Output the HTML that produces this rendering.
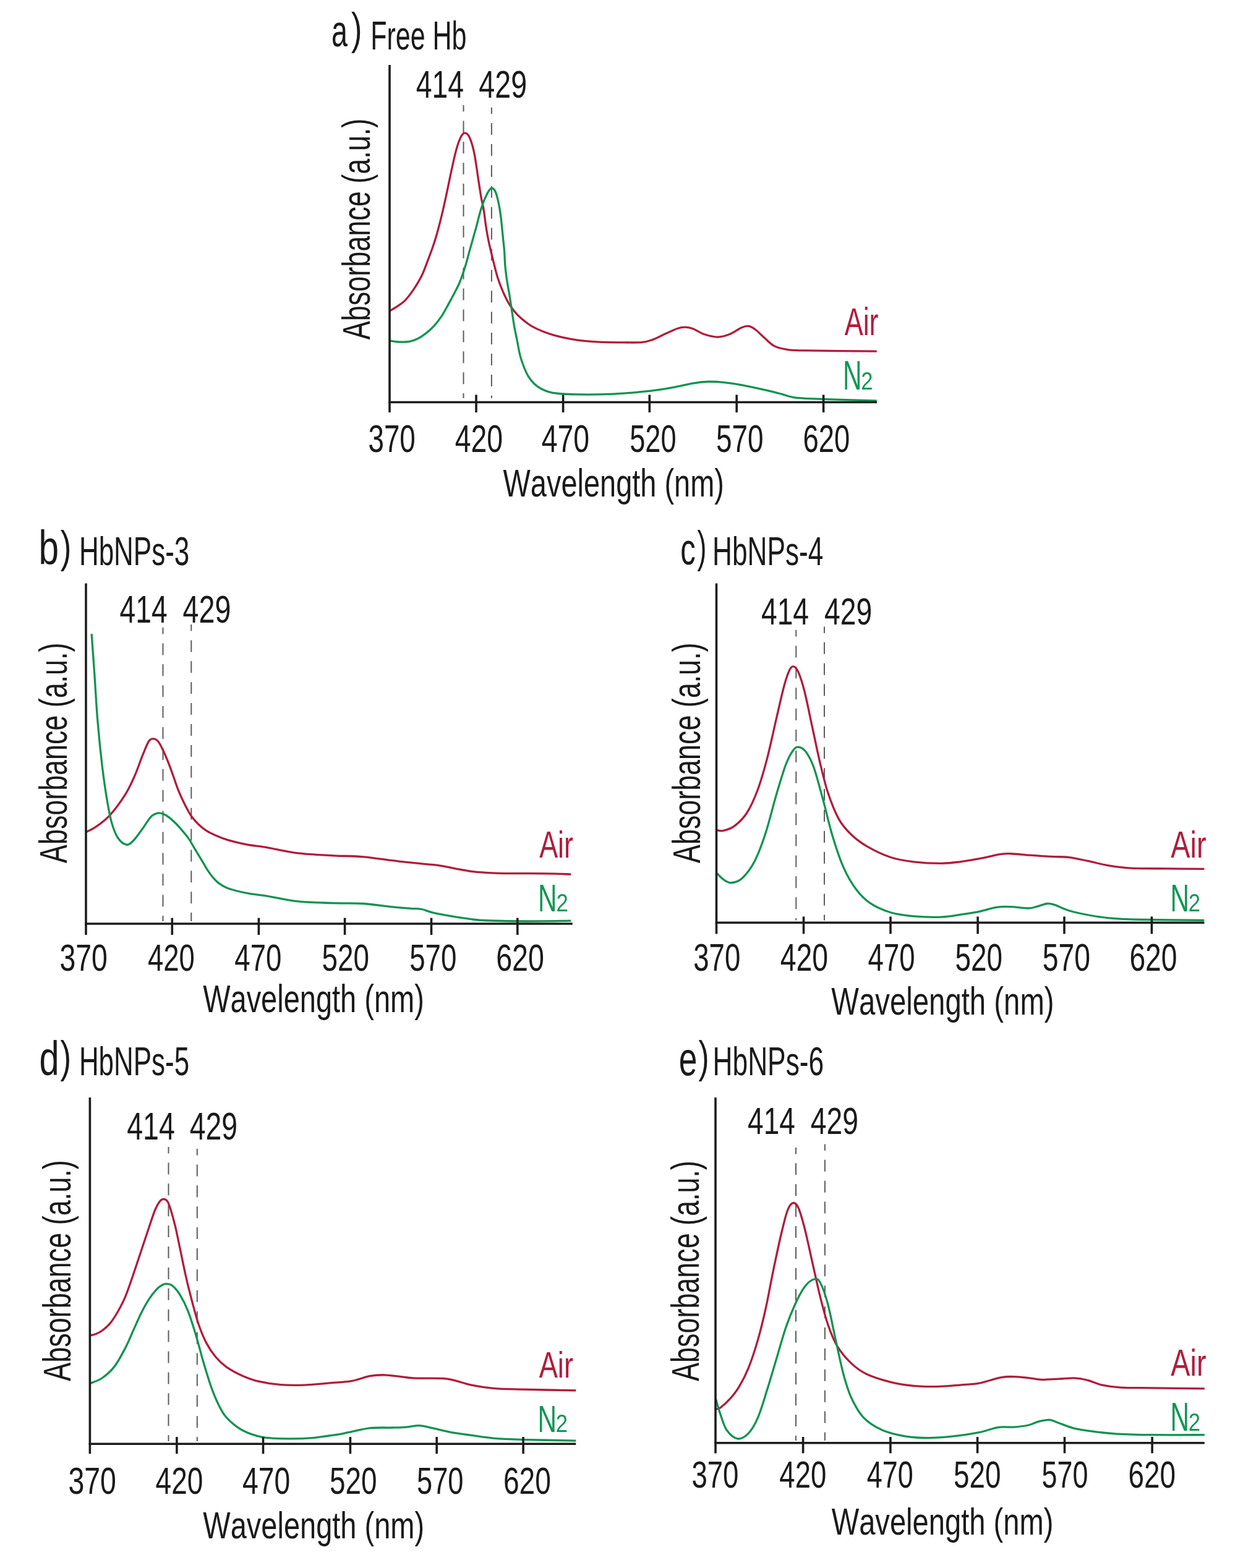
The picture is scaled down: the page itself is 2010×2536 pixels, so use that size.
<!DOCTYPE html>
<html><head><meta charset="utf-8"><title>Hb UV-vis spectra</title>
<style>html,body{margin:0;padding:0;background:#fff}svg{display:block}text{font-family:"Liberation Sans",Arial,sans-serif;font-kerning:none}</style>
</head><body>
<svg width="2010" height="2536" viewBox="0 0 2010 2536">
<rect width="2010" height="2536" fill="#fff"/>
<line x1="749.5" y1="170" x2="749.5" y2="644" stroke="#5c5c5c" stroke-width="2.0" stroke-dasharray="19 14.9" stroke-dashoffset="8.5"/>
<line x1="794.9" y1="173.7" x2="794.9" y2="644" stroke="#5c5c5c" stroke-width="2.0" stroke-dasharray="19 14.9" stroke-dashoffset="8.5"/>
<path d="M630,503 C632.17,501.7 638.67,498.23 643,495.2 C647.33,492.17 651.67,489.35 656,484.8 C660.33,480.25 664.67,474.4 669,467.9 C673.33,461.4 678.12,453.8 682,445.8 C685.88,437.8 689.3,427.7 692.3,419.9 C695.3,412.1 697.63,405.95 700,399 C702.37,392.05 704.12,386.65 706.5,378.2 C708.88,369.75 711.92,358.05 714.3,348.3 C716.68,338.55 718.63,329.65 720.8,319.7 C722.97,309.75 725.13,298.77 727.3,288.6 C729.47,278.43 731.85,267.15 733.8,258.7 C735.75,250.25 737.27,243.75 739,237.9 C740.73,232.05 742.68,227.07 744.2,223.6 C745.72,220.13 746.82,218.5 748.1,217.1 C749.38,215.7 750.4,214.98 751.9,215.2 C753.4,215.42 755.37,215.92 757.1,218.4 C758.83,220.88 760.57,224.68 762.3,230.1 C764.03,235.52 765.77,241.8 767.5,250.9 C769.23,260 770.97,273.43 772.7,284.7 C774.43,295.97 776.48,310.3 777.9,318.5 C779.32,326.7 780.28,329.02 781.2,333.9 C782.12,338.78 782.67,342.7 783.4,347.8 C784.13,352.9 784.77,358.93 785.6,364.5 C786.43,370.07 787.47,376.1 788.4,381.2 C789.33,386.3 790.18,390.47 791.2,395.1 C792.22,399.73 793.38,404.37 794.5,409 C795.62,413.63 796.75,418.23 797.9,422.9 C799.05,427.57 800.17,432.37 801.4,437 C802.63,441.63 803.52,445.4 805.3,450.7 C807.08,456 809.77,463.18 812.1,468.8 C814.43,474.42 816.9,479.78 819.3,484.4 C821.7,489.02 823.68,492.47 826.5,496.5 C829.32,500.53 832.57,504.78 836.2,508.6 C839.83,512.42 844.28,516.18 848.3,519.4 C852.32,522.62 855.28,525.08 860.3,527.9 C865.32,530.72 872.37,533.9 878.4,536.3 C884.43,538.7 889.47,540.38 896.5,542.3 C903.53,544.22 912.55,546.28 920.6,547.8 C928.65,549.32 936.75,550.5 944.8,551.4 C952.85,552.3 959.7,552.8 968.9,553.2 C978.1,553.6 988.53,553.73 1000,553.8 C1011.47,553.87 1028.52,554.35 1037.75,553.61 C1046.97,552.86 1049.07,551.6 1055.36,549.33 C1061.65,547.07 1068.78,543.04 1075.49,540.02 C1082.2,537 1090.17,533.02 1095.62,531.21 C1101.07,529.41 1104.01,529.12 1108.2,529.2 C1112.4,529.28 1115.75,529.83 1120.79,531.72 C1125.82,533.6 1131.69,538.3 1138.4,540.52 C1145.11,542.75 1153.92,545.14 1161.05,545.05 C1168.18,544.97 1174.89,542.54 1181.18,540.02 C1187.47,537.5 1193.97,532.05 1198.79,529.95 C1203.62,527.86 1206.34,526.94 1210.12,527.44 C1213.89,527.94 1217.04,529.75 1221.44,532.97 C1225.84,536.2 1231.5,542.41 1236.54,546.81 C1241.57,551.22 1245.76,556.33 1251.64,559.4 C1257.51,562.46 1263.38,563.93 1271.77,565.18 C1280.15,566.44 1277.64,566.44 1301.96,566.95 C1326.29,567.45 1398.42,567.99 1417.72,568.2" fill="none" stroke="#b01c3c" stroke-width="3.3" stroke-linecap="butt" stroke-linejoin="round"/>
<path d="M630,551 C632.17,551.33 637.58,552.78 643,553 C648.42,553.22 657.08,553.17 662.5,552.3 C667.92,551.43 671.18,549.95 675.5,547.8 C679.82,545.65 684.08,542.75 688.4,539.4 C692.72,536.05 697.07,532.47 701.4,527.7 C705.73,522.93 710.5,516.65 714.4,510.8 C718.3,504.95 721.55,498.45 724.8,492.6 C728.05,486.75 730.87,481.55 733.9,475.7 C736.93,469.85 740.4,463.52 743,457.5 C745.6,451.48 747.68,444.9 749.5,439.6 C751.32,434.3 752.42,430.8 753.9,425.7 C755.38,420.6 757,414.1 758.4,409 C759.8,403.9 761,399.73 762.3,395.1 C763.6,390.47 764.9,385.83 766.2,381.2 C767.5,376.57 768.82,372.12 770.1,367.3 C771.38,362.48 772.62,357.12 773.9,352.3 C775.18,347.48 776.4,342.85 777.8,338.4 C779.2,333.95 781,329 782.3,325.6 C783.6,322.2 784.38,320.6 785.6,318 C786.82,315.4 788.07,312.3 789.6,310 C791.13,307.7 793.07,304.53 794.8,304.2 C796.53,303.87 798.48,305.63 800,308 C801.52,310.37 802.6,313.63 803.9,318.4 C805.2,323.17 806.72,330.53 807.8,336.6 C808.88,342.67 809.53,347.43 810.4,354.8 C811.27,362.17 812.13,372.13 813,380.8 C813.87,389.47 814.95,398.57 815.6,406.8 C816.25,415.03 816.18,422.28 816.9,430.2 C817.62,438.12 818.7,446.27 819.9,454.3 C821.1,462.33 822.8,470.37 824.1,478.4 C825.4,486.43 826.48,494.45 827.7,502.5 C828.92,510.55 829.98,518.65 831.4,526.7 C832.82,534.75 834.6,542.77 836.2,550.8 C837.8,558.83 839.2,567.87 841,574.9 C842.8,581.93 844.78,587.37 847,593 C849.22,598.63 851.48,604.08 854.3,608.7 C857.12,613.32 860.28,617.28 863.9,620.7 C867.52,624.12 871.57,626.88 876,629.2 C880.43,631.52 885.07,633.3 890.5,634.6 C895.93,635.9 901.57,636.45 908.6,637 C915.63,637.55 922.65,637.75 932.7,637.9 C942.75,638.05 957.68,638.1 968.9,637.9 C980.12,637.7 986.43,637.62 1000,636.7 C1013.57,635.78 1035.65,634.06 1050.33,632.37 C1065.01,630.68 1076.33,628.68 1088.07,626.58 C1099.82,624.49 1111.14,621.34 1120.79,619.79 C1130.43,618.24 1137.56,617.48 1145.95,617.27 C1154.34,617.06 1161.89,617.57 1171.11,618.53 C1180.34,619.5 1189.98,620.96 1201.31,623.06 C1212.63,625.16 1228.57,628.72 1239.05,631.11 C1249.54,633.5 1257.09,635.52 1264.22,637.4 C1271.35,639.29 1273.44,641.18 1281.83,642.44 C1290.22,643.69 1291.9,643.99 1314.54,644.95 C1337.19,645.92 1400.52,647.68 1417.72,648.22" fill="none" stroke="#119352" stroke-width="3.3" stroke-linecap="butt" stroke-linejoin="round"/>
<line x1="630" y1="105" x2="630" y2="667" stroke="#1c1c1c" stroke-width="3.6" />
<line x1="628.2" y1="650.5" x2="1418" y2="650.5" stroke="#1c1c1c" stroke-width="3.6" />
<line x1="770" y1="638.5" x2="770" y2="667" stroke="#1c1c1c" stroke-width="3.6" />
<line x1="910.6" y1="638.5" x2="910.6" y2="667" stroke="#1c1c1c" stroke-width="3.6" />
<line x1="1050.3" y1="638.5" x2="1050.3" y2="667" stroke="#1c1c1c" stroke-width="3.6" />
<line x1="1191.2" y1="638.5" x2="1191.2" y2="667" stroke="#1c1c1c" stroke-width="3.6" />
<line x1="1331.6" y1="638.5" x2="1331.6" y2="667" stroke="#1c1c1c" stroke-width="3.6" />
<text transform="translate(595.47,731) scale(0.7251,1)" font-size="63.14" fill="#1a1a1a">370</text>
<text transform="translate(735.64,731) scale(0.7351,1)" font-size="63.14" fill="#1a1a1a">420</text>
<text transform="translate(875.74,731) scale(0.7351,1)" font-size="63.14" fill="#1a1a1a">470</text>
<text transform="translate(1018.19,731) scale(0.7152,1)" font-size="63.14" fill="#1a1a1a">520</text>
<text transform="translate(1157.96,731) scale(0.7271,1)" font-size="63.14" fill="#1a1a1a">570</text>
<text transform="translate(1298.43,731) scale(0.7187,1)" font-size="63.14" fill="#1a1a1a">620</text>
<text transform="translate(813.57,803.4) scale(0.7478,1)" font-size="62.78" fill="#1a1a1a">Wavelength (nm)</text>
<text transform="translate(597.9,549.22) rotate(-90) scale(0.7119,1)" font-size="63.19" fill="#1a1a1a">Absorbance (a.u.)</text>
<text transform="translate(672.64,157.8) scale(0.7429,1)" font-size="62.43" fill="#1a1a1a">414</text>
<text transform="translate(774.33,157.8) scale(0.7472,1)" font-size="62.43" fill="#1a1a1a">429</text>
<text transform="translate(1365.68,541.8) scale(0.7157,1)" font-size="62.76" fill="#b01c3c">Air</text>
<text transform="translate(1362.91,629.9) scale(0.6362,1)" font-size="66.52" fill="#129656">N</text>
<text transform="translate(1392.26,629.9) scale(0.8712,1)" font-size="39.86" fill="#129656">2</text>
<text transform="translate(535.9,75.08) scale(0.4667,0.7236)" font-size="100" fill="#1a1a1a">a</text>
<text transform="translate(567.88,70.87) scale(0.5231,0.7251)" font-size="100" fill="#1a1a1a">)</text>
<text transform="translate(599.16,79.5) scale(0.6580,1)" font-size="65.36" fill="#1a1a1a">Free Hb</text>
<line x1="263.5" y1="1015" x2="263.5" y2="1490" stroke="#5c5c5c" stroke-width="2.0" stroke-dasharray="19 14.9" stroke-dashoffset="8.5"/>
<line x1="309.3" y1="1010" x2="309.3" y2="1490" stroke="#5c5c5c" stroke-width="2.0" stroke-dasharray="19 14.9" stroke-dashoffset="8.5"/>
<path d="M138.81,1345.96 C141.53,1344.5 148.66,1341.77 155.16,1337.16 C161.66,1332.54 169.84,1327.09 177.81,1318.29 C185.77,1309.48 196.26,1295.01 202.97,1284.32 C209.68,1273.63 213.45,1264.61 218.06,1254.13 C222.68,1243.64 226.87,1230.64 230.64,1221.42 C234.42,1212.19 237.78,1203.19 240.71,1198.77 C243.63,1194.35 245.65,1194.78 248.2,1194.9 C250.75,1195.02 253.4,1196.35 256,1199.5 C258.6,1202.65 261.2,1208.4 263.8,1213.8 C266.4,1219.2 269,1225.42 271.6,1231.9 C274.2,1238.38 276.82,1245.55 279.4,1252.7 C281.98,1259.85 284.52,1268.08 287.1,1274.8 C289.68,1281.52 292.3,1287.37 294.9,1293 C297.5,1298.63 300.1,1303.83 302.7,1308.6 C305.3,1313.37 307.47,1317.5 310.5,1321.6 C313.53,1325.7 317,1329.53 320.9,1333.2 C324.8,1336.87 329.13,1340.57 333.9,1343.6 C338.67,1346.63 344.08,1349.02 349.5,1351.4 C354.92,1353.78 360.35,1355.95 366.4,1357.9 C372.45,1359.85 379.32,1361.58 385.8,1363.1 C392.28,1364.62 397.93,1365.8 405.3,1367 C412.67,1368.2 417.17,1368.14 430,1370.3 C442.83,1372.46 463.92,1377.68 482.25,1379.93 C500.59,1382.18 522.38,1382.81 540,1383.8 C557.62,1384.79 570.18,1384.3 588,1385.9 C605.82,1387.5 627.28,1391.18 646.9,1393.4 C666.52,1395.62 691.02,1397.33 705.7,1399.2 C720.38,1401.07 725.2,1402.87 735,1404.6 C744.8,1406.33 753.67,1408.33 764.5,1409.6 C775.33,1410.87 790.2,1411.7 800,1412.2 C809.8,1412.7 809.62,1412.5 823.3,1412.6 C836.98,1412.7 865.43,1412.57 882.1,1412.8 C898.77,1413.03 916.43,1413.8 923.3,1414" fill="none" stroke="#b01c3c" stroke-width="3.3" stroke-linecap="butt" stroke-linejoin="round"/>
<path d="M148.12,1025.16 C148.87,1035.64 151.05,1065 152.64,1088.06 C154.24,1111.13 155.58,1138.39 157.68,1163.55 C159.77,1188.71 162.71,1217.64 165.23,1239.03 C167.74,1260.42 170.26,1276.77 172.77,1291.87 C175.29,1306.96 177.39,1319.13 180.32,1329.61 C183.26,1340.09 186.4,1348.69 190.39,1354.77 C194.37,1360.85 200.03,1365.25 204.23,1366.09 C208.42,1366.93 211.25,1363.98 215.55,1359.8 C219.84,1355.62 226.29,1346.07 230,1341 C233.71,1335.93 235.2,1332.97 237.8,1329.4 C240.4,1325.83 242.78,1321.98 245.6,1319.6 C248.42,1317.22 251.67,1315.63 254.7,1315.1 C257.73,1314.57 260.77,1315.32 263.8,1316.4 C266.83,1317.48 269.45,1319 272.9,1321.6 C276.35,1324.2 280.83,1328.33 284.5,1332 C288.17,1335.67 291.43,1339.5 294.9,1343.6 C298.37,1347.7 302.27,1352.27 305.3,1356.6 C308.33,1360.93 310.5,1365.27 313.1,1369.6 C315.7,1373.93 318.3,1378.27 320.9,1382.6 C323.5,1386.93 326.1,1391.27 328.7,1395.6 C331.3,1399.93 333.9,1404.7 336.5,1408.6 C339.1,1412.5 341.48,1415.75 344.3,1419 C347.12,1422.25 349.72,1425.3 353.4,1428.1 C357.08,1430.9 361.43,1433.65 366.4,1435.8 C371.37,1437.95 376.72,1439.37 383.2,1441 C389.68,1442.63 397.5,1444.3 405.3,1445.6 C413.1,1446.9 417.17,1446.74 430,1448.8 C442.83,1450.86 463.92,1455.96 482.25,1457.93 C500.59,1459.9 522.38,1460.01 540,1460.6 C557.62,1461.19 572.17,1460.45 588,1461.5 C603.83,1462.55 622.25,1465.6 635,1466.9 C647.75,1468.2 656.67,1468.7 664.5,1469.3 C672.33,1469.9 675.13,1469.15 682,1470.5 C688.87,1471.85 691.95,1474.65 705.7,1477.4 C719.45,1480.15 749.8,1485.07 764.5,1487 C779.2,1488.93 779.2,1488.5 793.9,1489 C808.6,1489.5 831.13,1489.97 852.7,1490 C874.27,1490.03 911.53,1489.33 923.3,1489.2" fill="none" stroke="#119352" stroke-width="3.3" stroke-linecap="butt" stroke-linejoin="round"/>
<line x1="139" y1="943.5" x2="139" y2="1512" stroke="#1c1c1c" stroke-width="3.6" />
<line x1="137.2" y1="1494" x2="925.7" y2="1494" stroke="#1c1c1c" stroke-width="3.6" />
<line x1="278.3" y1="1484.6" x2="278.3" y2="1512" stroke="#1c1c1c" stroke-width="3.6" />
<line x1="418.4" y1="1484.6" x2="418.4" y2="1512" stroke="#1c1c1c" stroke-width="3.6" />
<line x1="557.6" y1="1484.6" x2="557.6" y2="1512" stroke="#1c1c1c" stroke-width="3.6" />
<line x1="697.5" y1="1484.6" x2="697.5" y2="1512" stroke="#1c1c1c" stroke-width="3.6" />
<line x1="836.8" y1="1484.6" x2="836.8" y2="1512" stroke="#1c1c1c" stroke-width="3.6" />
<text transform="translate(96.44,1570.3) scale(0.7681,1)" font-size="60.43" fill="#1a1a1a">370</text>
<text transform="translate(238.96,1570.3) scale(0.7527,1)" font-size="60.43" fill="#1a1a1a">420</text>
<text transform="translate(379.36,1570.3) scale(0.7537,1)" font-size="60.43" fill="#1a1a1a">470</text>
<text transform="translate(520.46,1570.3) scale(0.7598,1)" font-size="60.43" fill="#1a1a1a">520</text>
<text transform="translate(662.17,1570.3) scale(0.7556,1)" font-size="60.43" fill="#1a1a1a">570</text>
<text transform="translate(802.17,1570.3) scale(0.7719,1)" font-size="60.43" fill="#1a1a1a">620</text>
<text transform="translate(328.17,1637.3) scale(0.7499,1)" font-size="62.64" fill="#1a1a1a">Wavelength (nm)</text>
<text transform="translate(107.8,1395.92) rotate(-90) scale(0.7095,1)" font-size="63.19" fill="#1a1a1a">Absorbance (a.u.)</text>
<text transform="translate(193.55,1006.7) scale(0.7433,1)" font-size="62.14" fill="#1a1a1a">414</text>
<text transform="translate(295.53,1006.7) scale(0.7516,1)" font-size="62.14" fill="#1a1a1a">429</text>
<text transform="translate(872.18,1386.6) scale(0.7288,1)" font-size="61.52" fill="#b01c3c">Air</text>
<text transform="translate(870.11,1474.4) scale(0.6729,1)" font-size="62.9" fill="#129656">N</text>
<text transform="translate(899.46,1474.4) scale(0.8712,1)" font-size="39.86" fill="#129656">2</text>
<text transform="translate(62.4,913.02) scale(0.5844,0.7837)" font-size="100" fill="#1a1a1a">b</text>
<text transform="translate(97.77,908.54) scale(0.5308,0.7219)" font-size="100" fill="#1a1a1a">)</text>
<text transform="translate(127.88,914) scale(0.6822,1)" font-size="64.49" fill="#1a1a1a">HbNPs-3</text>
<line x1="1287.3" y1="1019" x2="1287.3" y2="1488.5" stroke="#5c5c5c" stroke-width="2.0" stroke-dasharray="19 14.9" stroke-dashoffset="8.5"/>
<line x1="1333" y1="1013.4" x2="1333" y2="1488.5" stroke="#5c5c5c" stroke-width="2.0" stroke-dasharray="19 14.9" stroke-dashoffset="8.5"/>
<path d="M1159.56,1342.69 C1161.32,1342.82 1165.43,1344.58 1170.13,1343.45 C1174.83,1342.32 1181.45,1340.72 1187.74,1335.9 C1194.03,1331.08 1201.58,1324.37 1207.87,1314.51 C1214.16,1304.66 1220.03,1291.45 1225.48,1276.77 C1230.93,1262.09 1235.55,1245.74 1240.58,1226.45 C1245.61,1207.16 1251.06,1180.74 1255.68,1161.03 C1260.29,1141.32 1264.69,1121.19 1268.26,1108.19 C1271.82,1095.19 1274.55,1088.06 1277.06,1083.03 C1279.58,1078 1281.05,1077.37 1283.35,1078 C1285.66,1078.63 1287.97,1080.1 1290.9,1086.81 C1293.84,1093.52 1297.19,1103.37 1300.97,1118.26 C1304.74,1133.14 1309.35,1156.84 1313.55,1176.13 C1317.74,1195.42 1321.93,1216.38 1326.13,1234 C1330.32,1251.61 1333.68,1266.71 1338.71,1281.8 C1343.74,1296.9 1350.03,1313.25 1356.32,1324.58 C1362.61,1335.9 1368.9,1342.4 1376.45,1349.74 C1384,1357.08 1391.13,1362.53 1401.61,1368.61 C1412.09,1374.69 1426.77,1382.03 1439.35,1386.22 C1451.93,1390.42 1463.25,1392.09 1477.09,1393.77 C1490.93,1395.45 1509.8,1396.29 1522.38,1396.29 C1534.96,1396.29 1541.63,1395.19 1552.58,1393.77 C1563.53,1392.35 1577.1,1389.82 1588.09,1387.77 C1599.08,1385.72 1610.71,1382.62 1618.51,1381.45 C1626.32,1380.28 1627.1,1380.48 1634.9,1380.75 C1642.7,1381.02 1654.4,1382.31 1665.32,1383.09 C1676.25,1383.87 1689.9,1384.84 1700.43,1385.43 C1710.97,1386.02 1718.77,1385.43 1728.52,1386.6 C1738.27,1387.77 1748.02,1390.19 1758.95,1392.45 C1769.87,1394.71 1782.35,1398.23 1794.06,1400.18 C1805.76,1402.13 1813.56,1403.37 1829.16,1404.15 C1844.77,1404.93 1867.98,1404.66 1887.68,1404.86 C1907.38,1405.05 1937.41,1405.25 1947.36,1405.32" fill="none" stroke="#b01c3c" stroke-width="3.3" stroke-linecap="butt" stroke-linejoin="round"/>
<path d="M1159.56,1412.64 C1161.32,1414.32 1166.27,1420.19 1170.13,1422.71 C1173.99,1425.22 1177.68,1428.16 1182.71,1427.74 C1187.74,1427.32 1194.03,1426.06 1200.32,1420.19 C1206.61,1414.32 1214.16,1404.67 1220.45,1392.51 C1226.74,1380.35 1232.19,1365.25 1238.06,1347.22 C1243.93,1329.19 1250.22,1302.77 1255.68,1284.32 C1261.13,1265.87 1266.16,1248.47 1270.77,1236.51 C1275.39,1224.56 1279.79,1217.31 1283.35,1212.61 C1286.92,1207.91 1288.81,1207.7 1292.16,1208.33 C1295.51,1208.96 1299.5,1210.85 1303.48,1216.38 C1307.47,1221.92 1311.45,1228.55 1316.06,1241.55 C1320.68,1254.55 1326.13,1275.93 1331.16,1294.38 C1336.19,1312.84 1340.8,1334.22 1346.26,1352.25 C1351.71,1370.29 1357.58,1388.32 1363.87,1402.58 C1370.16,1416.83 1376.87,1428.16 1384,1437.8 C1391.13,1447.45 1397.42,1454.16 1406.64,1460.45 C1415.87,1466.74 1427.61,1471.98 1439.35,1475.54 C1451.09,1479.11 1463.25,1480.58 1477.09,1481.83 C1490.93,1483.09 1509.8,1483.51 1522.38,1483.09 C1534.96,1482.67 1542.41,1480.77 1552.58,1479.32 C1562.75,1477.86 1573.59,1476.37 1583.41,1474.37 C1593.22,1472.38 1602.91,1468.64 1611.49,1467.35 C1620.07,1466.06 1626.32,1466.37 1634.9,1466.65 C1643.48,1466.92 1655.96,1469.07 1662.98,1468.99 C1670.01,1468.91 1671.96,1467.43 1677.03,1466.18 C1682.1,1464.93 1688.73,1461.97 1693.41,1461.5 C1698.09,1461.03 1699.26,1461.5 1705.11,1463.37 C1710.97,1465.24 1719.55,1470 1728.52,1472.73 C1737.49,1475.46 1748.02,1477.73 1758.95,1479.75 C1769.87,1481.78 1780.4,1483.66 1794.06,1484.9 C1807.71,1486.15 1815.31,1486.66 1840.87,1487.24 C1866.42,1487.83 1929.61,1488.22 1947.36,1488.41" fill="none" stroke="#119352" stroke-width="3.3" stroke-linecap="butt" stroke-linejoin="round"/>
<line x1="1158.5" y1="943.5" x2="1158.5" y2="1510.4" stroke="#1c1c1c" stroke-width="3.6" />
<line x1="1156.7" y1="1492.2" x2="1947.4" y2="1492.2" stroke="#1c1c1c" stroke-width="3.6" />
<line x1="1299.5" y1="1482.4" x2="1299.5" y2="1510.4" stroke="#1c1c1c" stroke-width="3.6" />
<line x1="1440" y1="1482.4" x2="1440" y2="1510.4" stroke="#1c1c1c" stroke-width="3.6" />
<line x1="1581.1" y1="1482.4" x2="1581.1" y2="1510.4" stroke="#1c1c1c" stroke-width="3.6" />
<line x1="1721" y1="1482.4" x2="1721" y2="1510.4" stroke="#1c1c1c" stroke-width="3.6" />
<line x1="1862.4" y1="1482.4" x2="1862.4" y2="1510.4" stroke="#1c1c1c" stroke-width="3.6" />
<text transform="translate(1121.18,1570.3) scale(0.7321,1)" font-size="62.29" fill="#1a1a1a">370</text>
<text transform="translate(1261.74,1570.3) scale(0.7442,1)" font-size="62.29" fill="#1a1a1a">420</text>
<text transform="translate(1403.56,1570.3) scale(0.7312,1)" font-size="62.29" fill="#1a1a1a">470</text>
<text transform="translate(1544.56,1570.3) scale(0.7371,1)" font-size="62.29" fill="#1a1a1a">520</text>
<text transform="translate(1685.75,1570.3) scale(0.7442,1)" font-size="62.29" fill="#1a1a1a">570</text>
<text transform="translate(1826.39,1570.3) scale(0.7418,1)" font-size="62.29" fill="#1a1a1a">620</text>
<text transform="translate(1344.36,1641.1) scale(0.7587,1)" font-size="62.36" fill="#1a1a1a">Wavelength (nm)</text>
<text transform="translate(1131.8,1395.92) rotate(-90) scale(0.7050,1)" font-size="63.61" fill="#1a1a1a">Absorbance (a.u.)</text>
<text transform="translate(1230.95,1010.4) scale(0.7485,1)" font-size="61.71" fill="#1a1a1a">414</text>
<text transform="translate(1332.94,1010.4) scale(0.7508,1)" font-size="61.71" fill="#1a1a1a">429</text>
<text transform="translate(1893.27,1386.6) scale(0.7630,1)" font-size="61.38" fill="#b01c3c">Air</text>
<text transform="translate(1892.51,1474.4) scale(0.6729,1)" font-size="62.9" fill="#129656">N</text>
<text transform="translate(1921.86,1474.4) scale(0.8712,1)" font-size="39.86" fill="#129656">2</text>
<text transform="translate(1100.19,913.08) scale(0.4907,0.7236)" font-size="100" fill="#1a1a1a">c</text>
<text transform="translate(1127.45,908.54) scale(0.4500,0.7219)" font-size="100" fill="#1a1a1a">)</text>
<text transform="translate(1151.96,914) scale(0.6863,1)" font-size="64.49" fill="#1a1a1a">HbNPs-4</text>
<line x1="272.5" y1="1855" x2="272.5" y2="2331" stroke="#5c5c5c" stroke-width="2.0" stroke-dasharray="19 14.9" stroke-dashoffset="8.5"/>
<line x1="318.8" y1="1858" x2="318.8" y2="2331" stroke="#5c5c5c" stroke-width="2.0" stroke-dasharray="19 14.9" stroke-dashoffset="8.5"/>
<path d="M145.54,2160.05 C147.13,2159.63 151.83,2158.87 155.1,2157.53 C158.37,2156.19 161.39,2154.81 165.16,2152 C168.94,2149.19 173.55,2145.71 177.74,2140.67 C181.94,2135.64 186.13,2129.14 190.32,2121.8 C194.52,2114.46 198.71,2106.71 202.9,2096.64 C207.1,2086.58 211.29,2073.58 215.48,2061.42 C219.68,2049.26 223.87,2036.26 228.06,2023.68 C232.26,2011.1 236.87,1997.05 240.64,1985.93 C244.42,1974.82 247.77,1964.13 250.71,1957 C253.64,1949.87 255.95,1946.1 258.26,1943.16 C260.56,1940.22 262.45,1939.39 264.55,1939.39 C266.64,1939.39 268.95,1940.43 270.84,1943.16 C272.72,1945.89 273.77,1949.03 275.87,1955.74 C277.97,1962.45 280.9,1972.93 283.42,1983.42 C285.93,1993.9 288.03,2004.8 290.97,2018.64 C293.9,2032.48 297.68,2051.77 301.03,2066.45 C304.39,2081.13 307.74,2094.13 311.1,2106.71 C314.45,2119.29 317.39,2131.03 321.16,2141.93 C324.93,2152.84 329.13,2163.32 333.74,2172.13 C338.35,2180.93 343.38,2188.27 348.84,2194.77 C354.29,2201.27 359.32,2206.09 366.45,2211.13 C373.58,2216.16 383.22,2221.19 391.61,2224.96 C400,2228.74 406.29,2231.34 416.77,2233.77 C427.26,2236.2 441.93,2238.51 454.51,2239.56 C467.09,2240.61 479.67,2240.48 492.25,2240.06 C504.83,2239.64 517.36,2238.11 530,2237.04 C542.63,2235.97 556.67,2235.56 568.09,2233.62 C579.51,2231.69 589.54,2227.07 598.51,2225.43 C607.49,2223.79 614.12,2223.67 621.92,2223.79 C629.72,2223.91 637.52,2225.27 645.32,2226.13 C653.13,2226.99 657.03,2228.39 668.73,2228.94 C680.43,2229.49 704.62,2228.82 715.54,2229.41 C726.46,2229.99 726.46,2230.66 734.27,2232.45 C742.07,2234.25 751.82,2238.03 762.35,2240.18 C772.88,2242.32 783.81,2244.15 797.46,2245.32 C811.11,2246.5 821.96,2246.61 844.27,2247.2 C866.58,2247.78 916.83,2248.56 931.34,2248.84" fill="none" stroke="#b01c3c" stroke-width="3.3" stroke-linecap="butt" stroke-linejoin="round"/>
<path d="M145.54,2237.54 C148.81,2236.08 158.54,2233.35 165.16,2228.74 C171.79,2224.13 179,2218.04 185.29,2209.87 C191.58,2201.69 197.87,2189.32 202.9,2179.67 C207.93,2170.03 211.29,2161.22 215.48,2152 C219.68,2142.77 223.87,2132.71 228.06,2124.32 C232.26,2115.93 236.45,2108.17 240.64,2101.67 C244.84,2095.17 249.45,2089.3 253.22,2085.32 C257,2081.34 260.56,2079.24 263.29,2077.77 C266.01,2076.3 267.06,2076.3 269.58,2076.51 C272.1,2076.72 274.82,2076.09 278.39,2079.03 C281.95,2081.97 286.77,2087.42 290.97,2094.13 C295.16,2100.84 299.35,2108.8 303.55,2119.29 C307.74,2129.77 311.93,2143.19 316.13,2157.03 C320.32,2170.87 324.51,2188.06 328.71,2202.32 C332.9,2216.58 337.09,2230.83 341.29,2242.58 C345.48,2254.32 349.68,2264.38 353.87,2272.77 C358.06,2281.16 360.16,2286.19 366.45,2292.9 C372.74,2299.61 381.97,2307.79 391.61,2313.03 C401.26,2318.27 411.74,2322.04 424.32,2324.35 C436.9,2326.66 453.67,2326.66 467.09,2326.87 C480.51,2327.08 492.25,2326.66 504.83,2325.61 C517.42,2324.56 532.81,2322.06 542.58,2320.58 C552.34,2319.09 554.08,2318.53 563.41,2316.71 C572.73,2314.9 586.81,2310.98 598.51,2309.69 C610.22,2308.4 623.87,2309.26 633.62,2308.99 C643.37,2308.71 649.62,2308.6 657.03,2308.05 C664.44,2307.51 671.07,2305.44 678.09,2305.71 C685.11,2305.98 690.97,2307.97 699.16,2309.69 C707.35,2311.41 716.71,2314.06 727.24,2316.01 C737.78,2317.96 750.65,2319.72 762.35,2321.39 C774.06,2323.07 783.81,2324.9 797.46,2326.07 C811.11,2327.24 821.96,2327.75 844.27,2328.41 C866.58,2329.08 916.83,2329.78 931.34,2330.05" fill="none" stroke="#119352" stroke-width="3.3" stroke-linecap="butt" stroke-linejoin="round"/>
<line x1="145.4" y1="1774.9" x2="145.4" y2="2351.3" stroke="#1c1c1c" stroke-width="3.6" />
<line x1="143.6" y1="2335.2" x2="931.3" y2="2335.2" stroke="#1c1c1c" stroke-width="3.6" />
<line x1="285.9" y1="2324" x2="285.9" y2="2351.3" stroke="#1c1c1c" stroke-width="3.6" />
<line x1="425.5" y1="2324" x2="425.5" y2="2351.3" stroke="#1c1c1c" stroke-width="3.6" />
<line x1="566.4" y1="2324" x2="566.4" y2="2351.3" stroke="#1c1c1c" stroke-width="3.6" />
<line x1="706.2" y1="2324" x2="706.2" y2="2351.3" stroke="#1c1c1c" stroke-width="3.6" />
<line x1="846.1" y1="2324" x2="846.1" y2="2351.3" stroke="#1c1c1c" stroke-width="3.6" />
<text transform="translate(110.44,2415.5) scale(0.7566,1)" font-size="61.43" fill="#1a1a1a">370</text>
<text transform="translate(251.55,2415.5) scale(0.7495,1)" font-size="61.43" fill="#1a1a1a">420</text>
<text transform="translate(392.04,2415.5) scale(0.7546,1)" font-size="61.43" fill="#1a1a1a">470</text>
<text transform="translate(532.96,2415.5) scale(0.7474,1)" font-size="61.43" fill="#1a1a1a">520</text>
<text transform="translate(673.99,2415.5) scale(0.7372,1)" font-size="61.43" fill="#1a1a1a">570</text>
<text transform="translate(813.89,2415.5) scale(0.7521,1)" font-size="61.43" fill="#1a1a1a">620</text>
<text transform="translate(328.37,2487.5) scale(0.7779,1)" font-size="60.42" fill="#1a1a1a">Wavelength (nm)</text>
<text transform="translate(113.9,2233.82) rotate(-90) scale(0.7090,1)" font-size="63.47" fill="#1a1a1a">Absorbance (a.u.)</text>
<text transform="translate(205.14,1842.8) scale(0.7493,1)" font-size="62.14" fill="#1a1a1a">414</text>
<text transform="translate(306.74,1842.8) scale(0.7466,1)" font-size="62.14" fill="#1a1a1a">429</text>
<text transform="translate(871.67,2227.8) scale(0.7577,1)" font-size="59.72" fill="#b01c3c">Air</text>
<text transform="translate(869.41,2315.5) scale(0.6871,1)" font-size="61.59" fill="#129656">N</text>
<text transform="translate(898.76,2315.5) scale(0.8712,1)" font-size="39.86" fill="#129656">2</text>
<text transform="translate(63.49,1739.02) scale(0.5778,0.7837)" font-size="100" fill="#1a1a1a">d</text>
<text transform="translate(97.57,1734.46) scale(0.5308,0.7209)" font-size="100" fill="#1a1a1a">)</text>
<text transform="translate(127.88,1739.3) scale(0.6875,1)" font-size="63.91" fill="#1a1a1a">HbNPs-5</text>
<line x1="1287" y1="1855.9" x2="1287" y2="2330" stroke="#5c5c5c" stroke-width="2.0" stroke-dasharray="19 14.9" stroke-dashoffset="8.5"/>
<line x1="1333.9" y1="1850.4" x2="1333.9" y2="2330" stroke="#5c5c5c" stroke-width="2.0" stroke-dasharray="19 14.9" stroke-dashoffset="8.5"/>
<path d="M1157.55,2279.06 C1158.81,2278.64 1161.32,2279.27 1165.1,2276.54 C1168.87,2273.82 1175.16,2268.37 1180.19,2262.71 C1185.23,2257.04 1190.26,2250.96 1195.29,2242.58 C1200.32,2234.19 1205.35,2224.96 1210.39,2212.38 C1215.42,2199.8 1220.87,2183.03 1225.48,2167.09 C1230.1,2151.16 1233.87,2135.64 1238.06,2116.77 C1242.26,2097.9 1246.45,2074 1250.64,2053.87 C1254.84,2033.74 1259.45,2011.93 1263.22,1996 C1267,1980.06 1270.14,1966.64 1273.29,1958.26 C1276.43,1949.87 1279.16,1946.52 1282.1,1945.68 C1285.03,1944.84 1287.76,1946.52 1290.9,1953.22 C1294.05,1959.93 1297.19,1971.26 1300.97,1985.93 C1304.74,2000.61 1309.35,2022.84 1313.55,2041.29 C1317.74,2059.74 1321.93,2079.87 1326.13,2096.64 C1330.32,2113.42 1334.09,2128.51 1338.71,2141.93 C1343.32,2155.35 1347.51,2166.67 1353.8,2177.16 C1360.09,2187.64 1368.48,2197.29 1376.45,2204.83 C1384.42,2212.38 1391.13,2217.42 1401.61,2222.45 C1412.09,2227.48 1426.77,2231.88 1439.35,2235.03 C1451.93,2238.17 1464.51,2240.06 1477.09,2241.32 C1489.67,2242.58 1502.25,2242.79 1514.83,2242.58 C1527.42,2242.37 1541.15,2240.97 1552.58,2240.06 C1564,2239.15 1572.42,2239.18 1583.41,2237.13 C1594.4,2235.08 1608.76,2229.53 1618.51,2227.77 C1628.27,2226.02 1634.12,2226.41 1641.92,2226.6 C1649.72,2226.8 1658.3,2228.16 1665.32,2228.94 C1672.35,2229.72 1676.25,2231.09 1684.05,2231.28 C1691.85,2231.48 1703.16,2230.5 1712.14,2230.11 C1721.11,2229.72 1730.08,2228.55 1737.88,2228.94 C1745.68,2229.33 1751.54,2230.58 1758.95,2232.45 C1766.36,2234.32 1773.38,2238.23 1782.35,2240.18 C1791.32,2242.13 1799.13,2243.37 1812.78,2244.15 C1826.43,2244.93 1841.76,2244.58 1864.27,2244.86 C1886.78,2245.13 1933.9,2245.64 1947.83,2245.79" fill="none" stroke="#b01c3c" stroke-width="3.3" stroke-linecap="butt" stroke-linejoin="round"/>
<path d="M1157.55,2262.71 C1158.81,2266.9 1162.16,2279.48 1165.1,2287.87 C1168.03,2296.25 1170.55,2306.53 1175.16,2313.03 C1179.77,2319.53 1186.9,2326.03 1192.77,2326.87 C1198.64,2327.7 1204.93,2323.72 1210.39,2318.06 C1215.84,2312.4 1220.45,2304.64 1225.48,2292.9 C1230.52,2281.16 1235.55,2263.54 1240.58,2247.61 C1245.61,2231.67 1250.64,2214.06 1255.68,2197.29 C1260.71,2180.51 1265.74,2161.64 1270.77,2146.96 C1275.81,2132.29 1280.84,2120.13 1285.87,2109.22 C1290.9,2098.32 1295.93,2088.26 1300.97,2081.55 C1306,2074.84 1311.87,2070.22 1316.06,2068.97 C1320.26,2067.71 1322.35,2067.29 1326.13,2074 C1329.9,2080.71 1334.51,2093.71 1338.71,2109.22 C1342.9,2124.74 1347.09,2148.22 1351.29,2167.09 C1355.48,2185.96 1359.68,2206.93 1363.87,2222.45 C1368.06,2237.96 1371,2248.45 1376.45,2260.19 C1381.9,2271.93 1388.19,2284.09 1396.58,2292.9 C1404.97,2301.7 1415.45,2308 1426.77,2313.03 C1438.09,2318.06 1451.93,2321 1464.51,2323.09 C1477.09,2325.19 1489.67,2325.61 1502.25,2325.61 C1514.83,2325.61 1526.47,2324.57 1540,2323.09 C1553.52,2321.61 1571.1,2319.14 1583.41,2316.71 C1595.71,2314.28 1604.47,2309.96 1613.83,2308.52 C1623.19,2307.08 1631.39,2308.64 1639.58,2308.05 C1647.77,2307.47 1656.35,2306.49 1662.98,2305.01 C1669.62,2303.53 1673.71,2300.6 1679.37,2299.16 C1685.02,2297.71 1691.46,2295.96 1696.92,2296.35 C1702.38,2296.74 1705.31,2299.16 1712.14,2301.5 C1718.96,2303.84 1728.13,2308.05 1737.88,2310.39 C1747.63,2312.73 1759.34,2314.1 1770.65,2315.54 C1781.96,2316.98 1790.15,2318.19 1805.76,2319.05 C1821.36,2319.91 1840.59,2320.42 1864.27,2320.69 C1887.95,2320.96 1933.9,2320.69 1947.83,2320.69" fill="none" stroke="#119352" stroke-width="3.3" stroke-linecap="butt" stroke-linejoin="round"/>
<line x1="1157" y1="1774.9" x2="1157" y2="2350.4" stroke="#1c1c1c" stroke-width="3.6" />
<line x1="1155.2" y1="2333.8" x2="1947.8" y2="2333.8" stroke="#1c1c1c" stroke-width="3.6" />
<line x1="1298.6" y1="2324" x2="1298.6" y2="2350.4" stroke="#1c1c1c" stroke-width="3.6" />
<line x1="1439.9" y1="2324" x2="1439.9" y2="2350.4" stroke="#1c1c1c" stroke-width="3.6" />
<line x1="1580.6" y1="2324" x2="1580.6" y2="2350.4" stroke="#1c1c1c" stroke-width="3.6" />
<line x1="1721.5" y1="2324" x2="1721.5" y2="2350.4" stroke="#1c1c1c" stroke-width="3.6" />
<line x1="1863.1" y1="2324" x2="1863.1" y2="2350.4" stroke="#1c1c1c" stroke-width="3.6" />
<text transform="translate(1118.38,2406.2) scale(0.7528,1)" font-size="60.57" fill="#1a1a1a">370</text>
<text transform="translate(1260.36,2406.2) scale(0.7509,1)" font-size="60.57" fill="#1a1a1a">420</text>
<text transform="translate(1401.68,2406.2) scale(0.7427,1)" font-size="60.57" fill="#1a1a1a">470</text>
<text transform="translate(1542.06,2406.2) scale(0.7580,1)" font-size="60.57" fill="#1a1a1a">520</text>
<text transform="translate(1684.6,2406.2) scale(0.7414,1)" font-size="60.57" fill="#1a1a1a">570</text>
<text transform="translate(1824.5,2406.2) scale(0.7586,1)" font-size="60.57" fill="#1a1a1a">620</text>
<text transform="translate(1344.66,2481.9) scale(0.7799,1)" font-size="60.42" fill="#1a1a1a">Wavelength (nm)</text>
<text transform="translate(1130.2,2233.82) rotate(-90) scale(0.7070,1)" font-size="63.47" fill="#1a1a1a">Absorbance (a.u.)</text>
<text transform="translate(1209.05,1833.7) scale(0.7542,1)" font-size="61" fill="#1a1a1a">414</text>
<text transform="translate(1310.74,1833.7) scale(0.7595,1)" font-size="61" fill="#1a1a1a">429</text>
<text transform="translate(1893.27,2225.4) scale(0.7647,1)" font-size="61.24" fill="#b01c3c">Air</text>
<text transform="translate(1892.51,2314.4) scale(0.6562,1)" font-size="64.49" fill="#129656">N</text>
<text transform="translate(1921.86,2314.4) scale(0.8712,1)" font-size="39.86" fill="#129656">2</text>
<text transform="translate(1097.7,1739.05) scale(0.5333,0.7545)" font-size="100" fill="#1a1a1a">e</text>
<text transform="translate(1129.48,1734.46) scale(0.5154,0.7209)" font-size="100" fill="#1a1a1a">)</text>
<text transform="translate(1152.56,1739.3) scale(0.6927,1)" font-size="63.91" fill="#1a1a1a">HbNPs-6</text>
</svg>
</body></html>
